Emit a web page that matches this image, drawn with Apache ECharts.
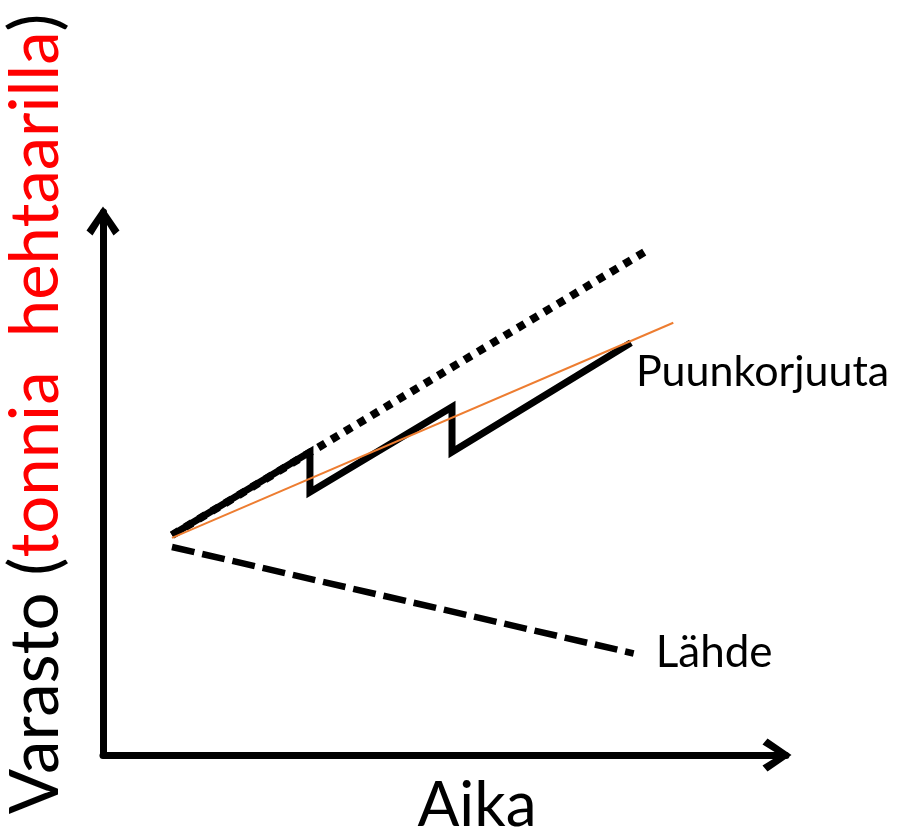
<!DOCTYPE html>
<html>
<head>
<meta charset="utf-8">
<script src="https://cdn.jsdelivr.net/npm/echarts@6/dist/echarts.min.js"></script>
<style>
html,body{margin:0;padding:0;background:#fff;}
#chart{width:899px;height:838px;}
</style>
</head>
<body>
<div id="chart"></div>
<script>
// Values (time 0-100, stock 0-100)
const harvestX = [10.1, 30.3, 30.3, 51.1, 51.1, 77.3];
const harvestY = [40.5, 55.8, 48.4, 64.1, 55.8, 75.9];
const growthX = [10.1, 79.5];
const growthY = [40.5, 92.8];
const trendX = [10.1, 83.5];
const trendY = [40.0, 79.6];
const sourceX = [10.1, 77.7];
const sourceY = [38.3, 18.7];

const xName = 'Aika';
const yNameBlack1 = 'Varasto (';
const yNameRed = 'tonnia  hehtaarilla';
const yNameBlack2 = ')';
const harvestName = 'Puunkorjuuta';
const sourceName = 'Lähde';

const pair = (xs, ys) => xs.map((x, i) => [x, ys[i]]);
const FONT = 'Lato, "Open Sans", sans-serif';
const arrow = 'path://M16.5 0 L33 24 L27 29 L16.5 12 L6 29 L0 24 Z';

const chart = echarts.init(document.getElementById('chart'), null, {renderer: 'canvas'});
const axisCommon = {
  type: 'value', min: 0, max: 100,
  axisLine: {show: true, onZero: false, symbol: ['none', arrow], symbolSize: [33, 30], symbolOffset: [0, -9],
    lineStyle: {color: '#000', width: 7}},
  axisTick: {show: false}, axisLabel: {show: false}, splitLine: {show: false}
};
chart.setOption({
  animation: false,
  backgroundColor: '#fff',
  grid: {left: 103, right: 899 - 786, top: 212, bottom: 838 - 755, containLabel: false},
  xAxis: Object.assign({}, axisCommon),
  yAxis: Object.assign({}, axisCommon),
  series: [
    {type: 'line', name: 'growth', data: pair(growthX, growthY), showSymbol: false, silent: true,
      lineStyle: {color: '#000', width: 8, type: [8, 7.5], cap: 'butt'}},
    {type: 'line', name: sourceName, data: pair(sourceX, sourceY), showSymbol: false, silent: true,
      lineStyle: {color: '#000', width: 6.5, type: [23, 8], cap: 'butt'},
      endLabel: {show: true, formatter: '{a}', color: '#000', fontFamily: FONT, fontSize: 44, offset: [14, -1], align: 'left', verticalAlign: 'middle'}},
    {type: 'line', name: harvestName, data: pair(harvestX, harvestY), showSymbol: false, silent: true,
      lineStyle: {color: '#000', width: 7, join: 'miter', cap: 'butt'},
      endLabel: {show: true, formatter: '{a}', color: '#000', fontFamily: FONT, fontSize: 43, offset: [-3, 29], align: 'left', verticalAlign: 'middle'}},
    {type: 'line', name: 'trend', data: pair(trendX, trendY), showSymbol: false, silent: true,
      lineStyle: {color: '#ED7D31', width: 2}}
  ],
  graphic: [
    {type: 'text', x: 477, y: 806, style: {text: xName, fill: '#000', fontSize: 62, fontFamily: FONT, align: 'center', verticalAlign: 'middle'}},
    {type: 'text', x: 36, y: 414, rotation: Math.PI / 2,
      style: {text: '{b|' + yNameBlack1 + '}{r|' + yNameRed + '}{b|' + yNameBlack2 + '}',
        fontSize: 67, fontFamily: FONT, align: 'center', verticalAlign: 'middle',
        rich: {b: {fill: '#000', fontSize: 67, fontFamily: FONT}, r: {fill: '#ff0000', fontSize: 67, fontFamily: FONT}}}}
  ]
});
</script>
</body>
</html>
